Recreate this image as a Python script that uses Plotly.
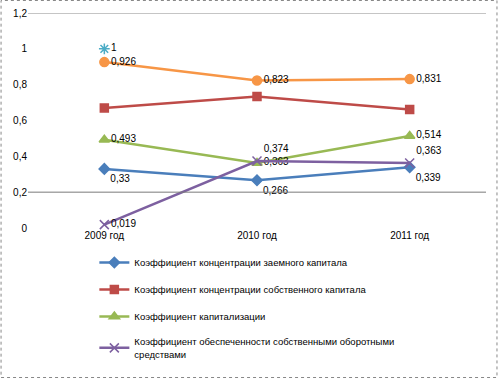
import plotly.graph_objects as go

years = ["2009 год", "2010 год", "2011 год"]
borrowed = [0.33, 0.266, 0.339]
equity = [0.67, 0.734, 0.661]
capitalization = [0.493, 0.363, 0.514]
working = [0.019, 0.374, 0.363]
extra_orange = [0.926, 0.823, 0.831]
extra_teal = [1, None, None]

names = [
    "Коэффициент концентрации заемного капитала",
    "Коэффициент концентрации собственного капитала",
    "Коэффициент капитализации",
    "Коэффициент обеспеченности собственными оборотными<br>средствами",
]

def fmt(v):
    if v is None:
        return ""
    s = ("%g" % v).replace(".", ",")
    return s

W, H = 498, 378
L, R, T, B = 27.5, 11.5, 13, 150
pw, ph = W - L - R, H - T - B
font = "Liberation Sans"

fig = go.Figure()

def add(y, name, color, symbol, size, labels, pos, legend=True, group=None):
    fig.add_trace(go.Scatter(
        x=years, y=y, name=name, mode="lines+markers+text" if labels else "lines+markers",
        line=dict(color=color, width=2.5),
        marker=dict(color=color, symbol=symbol, size=size,
                    line=dict(color=color, width=1.5)),
        text=[fmt(v) for v in y] if labels else None,
        textposition=pos, textfont=dict(size=10, color="#000", family=font),
        showlegend=legend, legendgroup=group or name,
        cliponaxis=False,
    ))

add(borrowed, names[0], "#4A7EBB", "diamond", 8, True, ["bottom right", "bottom right", "bottom right"])
add(equity, names[1], "#BE4B48", "square", 8, False, None)
add(capitalization, names[2], "#98B954", "triangle-up", 9, True, ["middle right", "middle right", "middle right"])
add(working, names[3], "#7D60A0", "x-thin", 9, True, ["middle right", "top right", "top right"])
add(extra_orange, "orange", "#F79646", "circle", 9, True, ["middle right", "middle right", "middle right"], legend=False)
fig.add_trace(go.Scatter(
    x=years, y=extra_teal, mode="markers+text", showlegend=False,
    marker=dict(color="#4BACC6", symbol="asterisk-open", size=9, line=dict(color="#4BACC6", width=1.5)),
    text=[fmt(v) for v in extra_teal], textposition="middle right",
    textfont=dict(size=10, color="#000", family=font), cliponaxis=False,
))

yt = [0, 0.2, 0.4, 0.6, 0.8, 1.0, 1.2]
fig.update_layout(
    width=W, height=H,
    margin=dict(l=L, r=R, t=T, b=B, autoexpand=False),
    paper_bgcolor="white", plot_bgcolor="white",
    font=dict(family=font, size=10, color="#000"),
    xaxis=dict(range=[-0.5, 2.5], showgrid=False, showline=False, zeroline=False, ticks="",
               tickfont=dict(size=10), automargin=False),
    yaxis=dict(range=[0, 1.2], tickvals=yt, ticktext=[fmt(v) for v in yt],
               showgrid=False, zeroline=False, showline=False, ticks="",
               tickfont=dict(size=10), automargin=False),
    legend=dict(x=(94 - L) / pw, xanchor="left", y=-(248 - (T + ph)) / ph, yanchor="top",
                orientation="v", tracegroupgap=8, font=dict(size=9.5, color="#000"),
                itemwidth=30, bgcolor="rgba(0,0,0,0)"),
    showlegend=True,
    shapes=[
        dict(type="line", xref="paper", yref="y", x0=0, x1=1, y0=1.2, y1=1.2,
             line=dict(color="#8c8c8c", width=1)),
        dict(type="line", xref="paper", yref="y", x0=0, x1=1, y0=0.2, y1=0.2,
             line=dict(color="#7a7a7a", width=1)),
        dict(type="rect", xref="paper", yref="paper",
             x0=(0.5 - L) / pw, x1=(W - 0.5 - L) / pw,
             y0=-(H - 0.5 - T - ph) / ph, y1=1 + (T - 0.5) / ph,
             line=dict(color="#888", width=1, dash="dot")),
    ],
)

fig.write_html("out.html", config={"displayModeBar": False},
               post_script="document.body.style.margin='0';document.body.style.overflow='hidden';")
